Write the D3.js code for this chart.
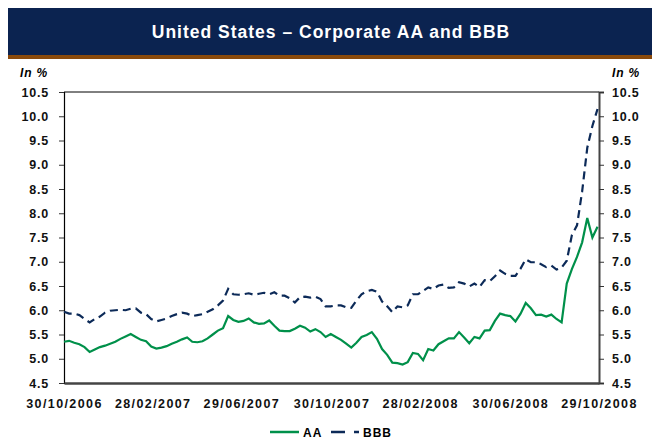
<!DOCTYPE html>
<html>
<head>
<meta charset="utf-8">
<script src="https://cdn.jsdelivr.net/npm/d3@7"></script>
<style>
    body { margin: 0; background: #ffffff; }
    text { font-family: 'Liberation Sans', Arial, sans-serif; }
</style>
</head>
<body>
<div id="chart"></div>
<script>

const width = 652
const height = 440
const margin = { left: 64, right: 53, top: 92, bottom: 57 }
const color_aa = '#00904a'
const color_bbb = '#0c2a58'
const color_band = '#0b2350'
const color_strip = '#8a4a0c'

const title = 'United States \u2013 Corporate AA and BBB'
const unit_label = 'In %'
const series_names = ['AA', 'BBB']
const tick_labels = ['30/10/2006', '28/02/2007', '29/06/2007', '30/10/2007', '28/02/2008', '30/06/2008', '29/10/2008']
const y_ticks = [4.5, 5.0, 5.5, 6.0, 6.5, 7.0, 7.5, 8.0, 8.5, 9.0, 9.5, 10.0, 10.5]

// weekly readings, starting Monday 30/10/2006
const aa_values = [
    5.35, 5.37, 5.33, 5.30, 5.24, 5.14, 5.19, 5.24, 5.27, 5.31,
    5.35, 5.41, 5.46, 5.51, 5.45, 5.39, 5.36, 5.25, 5.21, 5.23,
    5.26, 5.31, 5.35, 5.40, 5.44, 5.35, 5.34, 5.36, 5.42, 5.50,
    5.58, 5.63, 5.88, 5.80, 5.76, 5.78, 5.83, 5.75, 5.72, 5.73,
    5.79, 5.68, 5.58, 5.57, 5.57, 5.62, 5.68, 5.64, 5.56, 5.61,
    5.55, 5.45, 5.51, 5.45, 5.39, 5.31, 5.23, 5.33, 5.45, 5.49,
    5.55, 5.41, 5.20, 5.08, 4.92, 4.91, 4.88, 4.93, 5.12, 5.10,
    4.97, 5.20, 5.17, 5.30, 5.36, 5.42, 5.42, 5.55, 5.44, 5.32,
    5.45, 5.42, 5.58, 5.59, 5.78, 5.93, 5.90, 5.88, 5.77, 5.93,
    6.15, 6.04, 5.90, 5.91, 5.87, 5.91, 5.82, 5.75, 6.55, 6.85,
    7.10, 7.40, 7.90, 7.50, 7.72
]
const bbb_values = [
    5.97, 5.93, 5.93, 5.90, 5.82, 5.75, 5.82, 5.87, 5.95, 5.99,
    6.00, 6.01, 6.00, 6.03, 6.04, 5.95, 5.92, 5.82, 5.77, 5.80,
    5.83, 5.88, 5.92, 5.95, 5.93, 5.88, 5.90, 5.92, 5.97, 6.02,
    6.10, 6.20, 6.44, 6.33, 6.32, 6.33, 6.35, 6.32, 6.34, 6.36,
    6.33, 6.37, 6.30, 6.30, 6.25, 6.16, 6.27, 6.28, 6.26, 6.28,
    6.23, 6.08, 6.08, 6.10, 6.10, 6.06, 6.05, 6.20, 6.33, 6.39,
    6.42, 6.38, 6.18, 6.08, 5.96, 6.08, 6.06, 6.10, 6.33, 6.33,
    6.40, 6.47, 6.44, 6.51, 6.53, 6.46, 6.47, 6.58, 6.55, 6.49,
    6.55, 6.48, 6.62, 6.60, 6.70, 6.82, 6.75, 6.71, 6.71, 6.86,
    7.05, 6.99, 6.99, 6.95, 6.89, 6.92, 6.84, 6.88, 7.02, 7.55,
    7.75, 8.45, 9.35, 9.80, 10.15
]

const parse_date = d3.timeParse('%d/%m/%Y')
const start_date = parse_date(tick_labels[0])
const end_date = parse_date(tick_labels[tick_labels.length - 1])
const dates = d3.timeMonday.range(start_date, d3.timeDay.offset(end_date, 1))

const svg = d3.select('#chart')
    .append('svg')
    .attr('width', width)
    .attr('height', height)

// title band
svg.append('rect')
    .attr('x', 8)
    .attr('y', 8)
    .attr('width', width - 8)
    .attr('height', 47)
    .attr('fill', color_band)
svg.append('rect')
    .attr('x', 8)
    .attr('y', 55)
    .attr('width', width - 8)
    .attr('height', 4)
    .attr('fill', color_strip)
svg.append('text')
    .attr('x', 331)
    .attr('y', 38)
    .attr('text-anchor', 'middle')
    .attr('fill', 'white')
    .style('font-size', '17.5px')
    .style('font-weight', 'bold')
    .style('letter-spacing', '1px')
    .text(title)

const x = d3.scaleTime()
    .domain([start_date, end_date])
    .range([margin.left, width - margin.right])
const y = d3.scaleLinear()
    .domain([4.5, 10.5])
    .range([height - margin.bottom, margin.top])

// frame top
svg.append('line')
    .attr('x1', margin.left)
    .attr('x2', width - margin.right)
    .attr('y1', margin.top)
    .attr('y2', margin.top)
    .attr('stroke', 'black')
    .attr('stroke-width', 1)

const fmt = d3.format('.1f')
const axis_left = svg.append('g')
    .attr('transform', `translate(${margin.left},0)`)
    .call(d3.axisLeft(y).tickValues(y_ticks).tickFormat(fmt).tickSize(5).tickPadding(10))
const axis_right = svg.append('g')
    .attr('transform', `translate(${width - margin.right},0)`)
    .call(d3.axisRight(y).tickValues(y_ticks).tickFormat(fmt).tickSize(5).tickPadding(8))
const axis_bottom = svg.append('g')
    .attr('transform', `translate(0,${height - margin.bottom})`)
    .call(d3.axisBottom(x).tickValues(tick_labels.map(parse_date)).tickFormat(d3.timeFormat('%d/%m/%Y')).tickSize(0).tickPadding(16))

axis_left.select('.domain').attr('stroke', 'black').attr('stroke-width', 1.2)
axis_right.select('.domain').attr('stroke', '#444').attr('stroke-width', 2)
axis_bottom.select('.domain').attr('stroke', '#444').attr('stroke-width', 2.5)
svg.selectAll('.tick line').attr('stroke', '#333')
svg.selectAll('.tick text')
    .attr('fill', '#111')
    .style('font-size', '12.5px')
    .style('font-weight', 'bold')
    .style('font-family', "'Liberation Sans', Arial, sans-serif")
    .style('letter-spacing', '0.8px')
axis_bottom.selectAll('.tick text').style('letter-spacing', '1.4px')

// unit labels
svg.append('text')
    .attr('x', 20)
    .attr('y', 77)
    .style('font-size', '12px')
    .style('font-weight', 'bold')
    .style('font-style', 'italic')
    .style('letter-spacing', '0.8px')
    .text(unit_label)
svg.append('text')
    .attr('x', 612)
    .attr('y', 77)
    .style('font-size', '12px')
    .style('font-weight', 'bold')
    .style('font-style', 'italic')
    .style('letter-spacing', '0.8px')
    .text(unit_label)

// series
const line_generator = d3.line()
    .x(d => x(d.date))
    .y(d => y(d.value))
const aa_points = dates.map((d, i) => ({ date: d, value: aa_values[i] }))
const bbb_points = dates.map((d, i) => ({ date: d, value: bbb_values[i] }))

svg.append('path')
    .attr('d', line_generator(aa_points))
    .attr('fill', 'none')
    .attr('stroke', color_aa)
    .attr('stroke-width', 2.2)
svg.append('path')
    .attr('d', line_generator(bbb_points))
    .attr('fill', 'none')
    .attr('stroke', color_bbb)
    .attr('stroke-width', 2.2)
    .attr('stroke-dasharray', '8,5')

// legend
const legend_y = 432
svg.append('line')
    .attr('x1', 270).attr('x2', 299)
    .attr('y1', legend_y).attr('y2', legend_y)
    .attr('stroke', color_aa)
    .attr('stroke-width', 2.5)
svg.append('text')
    .attr('x', 303)
    .attr('y', legend_y + 5)
    .style('font-size', '12px')
    .style('font-weight', 'bold')
    .style('letter-spacing', '1px')
    .text(series_names[0])
svg.append('line')
    .attr('x1', 331).attr('x2', 360)
    .attr('y1', legend_y).attr('y2', legend_y)
    .attr('stroke', color_bbb)
    .attr('stroke-width', 2.5)
    .attr('stroke-dasharray', '14,9,5')
svg.append('text')
    .attr('x', 363)
    .attr('y', legend_y + 5)
    .style('font-size', '12px')
    .style('font-weight', 'bold')
    .style('letter-spacing', '1px')
    .text(series_names[1])

</script>
</body>
</html>
